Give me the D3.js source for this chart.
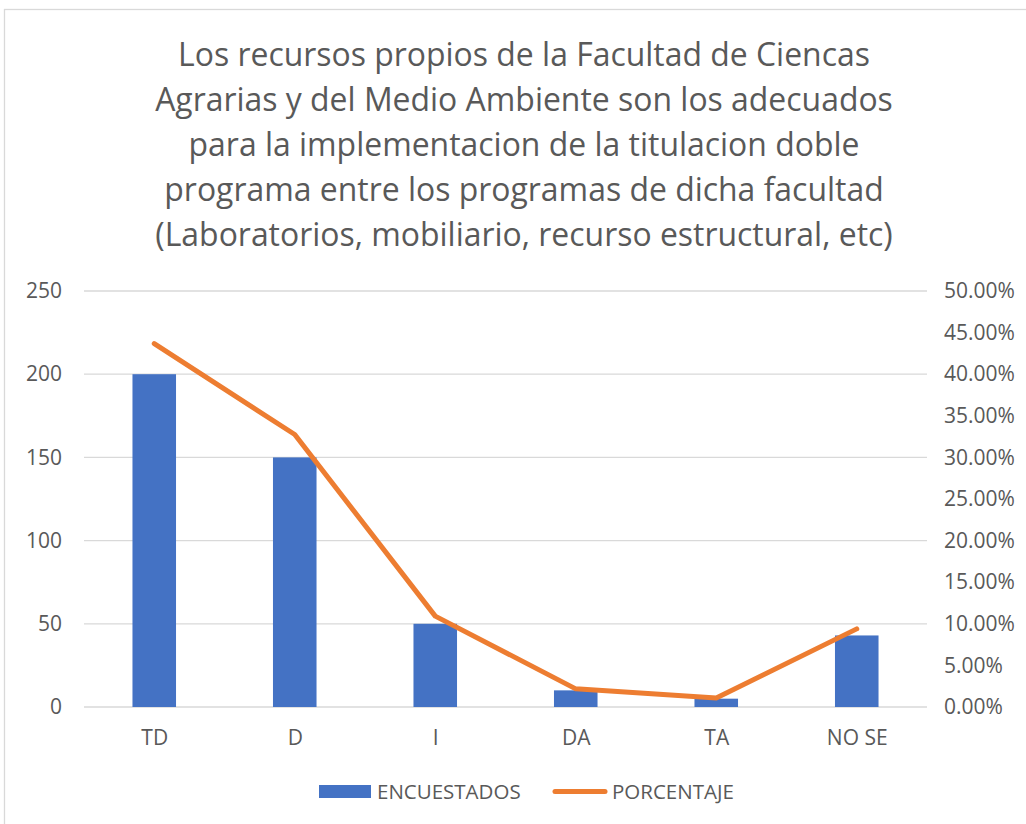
<!DOCTYPE html>
<html lang="es">
<head>
    <meta charset="UTF-8">
    <title>Recursos propios - Facultad de Ciencias Agrarias</title>
    <script src="https://d3js.org/d3.v7.min.js"></script>
    <style>
        body {
            margin: 0;
            background: #fff;
        }
        svg text {
            font-family: "Open Sans", "Noto Sans", sans-serif;
            fill: #595959;
        }
        .grid line {
            stroke: #d9d9d9;
            stroke-width: 1.3;
        }
    </style>
</head>
<body>
    <div id="chart"></div>

    <script>
        // data
        const categories = ["TD", "D", "I", "DA", "TA", "NO SE"];
        const encuestados = [200, 150, 50, 10, 5, 43];
        const porcentaje = [0.4367, 0.3275, 0.1092, 0.0218, 0.0109, 0.0939];
        const leftTicks = [0, 50, 100, 150, 200, 250];
        const rightTicks = [0, 0.05, 0.10, 0.15, 0.20, 0.25, 0.30, 0.35, 0.40, 0.45, 0.50];
        const titleLines = [
            "Los recursos propios de la Facultad de Ciencas",
            "Agrarias y del Medio Ambiente son los adecuados",
            "para la implementacion de la titulacion doble",
            "programa entre los programas de dicha facultad",
            "(Laboratorios, mobiliario, recurso estructural, etc)"
        ];
        const seriesNames = ["ENCUESTADOS", "PORCENTAJE"];

        const svgWidth = 1026;
        const svgHeight = 824;
        const margin = { top: 291, right: 99, bottom: 117, left: 84 };
        const width = svgWidth - margin.left - margin.right;
        const height = svgHeight - margin.top - margin.bottom;
        const labelSize = "21px";

        const svg = d3.select("#chart").append("svg")
            .attr("width", svgWidth)
            .attr("height", svgHeight);

        // outer chart border
        svg.append("rect")
            .attr("x", 4.5)
            .attr("y", 9.5)
            .attr("width", 1030)
            .attr("height", 830)
            .attr("fill", "none")
            .attr("stroke", "#d9d9d9")
            .attr("stroke-width", 1.3);

        // title
        const title = svg.append("text")
            .attr("text-anchor", "middle")
            .style("font-size", "32px");
        titleLines.forEach((t, i) => {
            title.append("tspan")
                .attr("x", 524)
                .attr("y", 66 + i * 45)
                .text(t);
        });
        // scale the title so the first line is as wide as in the picture
        const firstLen = title.select("tspan").node().getComputedTextLength();
        title.style("font-size", (32 * 692 / firstLen) + "px");

        const g = svg.append("g").attr("transform", `translate(${margin.left},${margin.top})`);

        const x = d3.scaleBand().domain(categories).range([0, width]).paddingInner(0.69).paddingOuter(0.345);
        const y = d3.scaleLinear().domain([0, 250]).range([height, 0]);
        const y2 = d3.scaleLinear().domain([0, 0.5]).range([height, 0]);

        // gridlines
        g.append("g")
            .attr("class", "grid")
            .selectAll("line")
            .data(leftTicks)
            .enter().append("line")
            .attr("x1", 0)
            .attr("x2", width)
            .attr("y1", d => y(d))
            .attr("y2", d => y(d));

        // left axis
        const leftAxis = g.append("g")
            .call(d3.axisLeft(y).tickValues(leftTicks).tickSize(0).tickPadding(22));
        leftAxis.select(".domain").remove();
        leftAxis.selectAll("text").style("font-size", labelSize);

        // right axis
        const rightAxis = g.append("g")
            .attr("transform", `translate(${width},0)`)
            .call(d3.axisRight(y2).tickValues(rightTicks).tickSize(0).tickPadding(17).tickFormat(d3.format(".2%")));
        rightAxis.select(".domain").remove();
        rightAxis.selectAll("text").style("font-size", labelSize);

        // bottom axis
        const bottomAxis = g.append("g")
            .attr("transform", `translate(0,${height})`)
            .call(d3.axisBottom(d3.scalePoint().domain(categories).range([0, width]).padding(0.5)).tickSize(0).tickPadding(23));
        bottomAxis.select(".domain").remove();
        bottomAxis.selectAll("text").style("font-size", labelSize);

        // bars
        g.selectAll(".bar")
            .data(categories)
            .enter().append("rect")
            .attr("class", "bar")
            .attr("x", d => x(d))
            .attr("y", (d, i) => y(encuestados[i]))
            .attr("width", x.bandwidth())
            .attr("height", (d, i) => height - y(encuestados[i]))
            .attr("fill", "#4472c4");

        // percentage line
        const line = d3.line()
            .x((d, i) => x(categories[i]) + x.bandwidth() / 2)
            .y(d => y2(d));

        g.append("path")
            .datum(porcentaje)
            .attr("d", line)
            .attr("fill", "none")
            .attr("stroke", "#ed7d31")
            .attr("stroke-width", 5)
            .attr("stroke-linecap", "round")
            .attr("stroke-linejoin", "round");

        // legend
        const legend = svg.append("g");
        legend.append("rect")
            .attr("x", 319)
            .attr("y", 785)
            .attr("width", 52)
            .attr("height", 13)
            .attr("fill", "#4472c4");
        legend.append("text")
            .attr("x", 377)
            .attr("y", 799)
            .style("font-size", "20.5px")
            .text(seriesNames[0]);
        legend.append("line")
            .attr("x1", 555)
            .attr("x2", 605)
            .attr("y1", 791.5)
            .attr("y2", 791.5)
            .attr("stroke", "#ed7d31")
            .attr("stroke-width", 5)
            .attr("stroke-linecap", "round");
        legend.append("text")
            .attr("x", 612)
            .attr("y", 799)
            .style("font-size", "20.5px")
            .text(seriesNames[1]);
    </script>
</body>
</html>
